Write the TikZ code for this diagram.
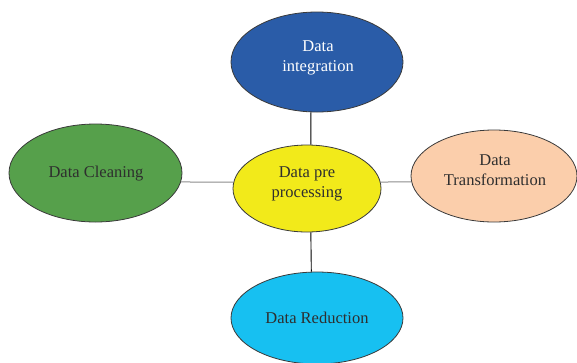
\documentclass[tikz,border=0pt]{standalone}
\usepackage{fontspec}
\setmainfont{Liberation Serif}
\usetikzlibrary{shapes.geometric}
\definecolor{cblue}{HTML}{2A5CA8}
\definecolor{cgreen}{HTML}{56A04B}
\definecolor{cyellow}{HTML}{F2EA1A}
\definecolor{cpeach}{HTML}{FBCEAB}
\definecolor{ccyan}{HTML}{17C0F1}
\definecolor{ctext}{HTML}{2E2E2E}
\definecolor{cedge}{HTML}{3A3A3A}
\tikzset{
  bubble/.style={ellipse, draw=cedge, line width=0.8pt, inner sep=0pt},
  lbl/.style={align=center, font=\fontsize{16.5}{20}\selectfont, text=ctext, inner sep=0pt},
  vline/.style={draw=black, line width=0.9pt},
  hline/.style={draw=gray!90, line width=1pt}
}
\begin{document}
\begin{tikzpicture}[x=1pt,y=-1pt]
\useasboundingbox (0,0) rectangle (577,362);
\node[bubble, fill=cblue, minimum width=172pt, minimum height=100pt] (top) at (317,62) {};
\node[bubble, fill=cgreen, minimum width=173pt, minimum height=98pt] (left) at (95.5,173) {};
\node[bubble, fill=cyellow, minimum width=148pt, minimum height=87pt] (center) at (307,188.5) {};
\node[bubble, fill=cpeach, minimum width=166pt, minimum height=92pt] (right) at (494,176) {};
\node[bubble, fill=ccyan, minimum width=172pt, minimum height=92pt] (bottom) at (317,318) {};
\node[lbl, text=white] (ttop) at (318,58) {Data\\integration};
\node[lbl] (tleft) at (96,173.5) {Data Cleaning};
\node[lbl] (tcenter) at (307,184) {Data pre\\processing};
\node[lbl] (tright) at (495,170) {Data\\Transformation};
\node[lbl] (tbottom) at (317,318) {Data Reduction};
\draw[vline] (top.263) -- (center.85);
\draw[vline] (center.-85) -- (bottom.97);
\draw[hline] (left.-6) -- (center.175);
\draw[hline] (center.5) -- (right.184);
\end{tikzpicture}
\end{document}
